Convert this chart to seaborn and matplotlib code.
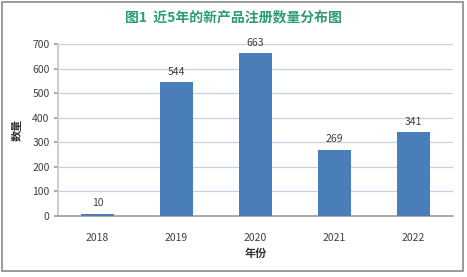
import matplotlib
matplotlib.use("Agg")
import matplotlib.pyplot as plt
import seaborn as sns
import pandas as pd
from matplotlib.patches import Rectangle

years = ["2018", "2019", "2020", "2021", "2022"]
counts = [10, 544, 663, 269, 341]
title = "图1  近5年的新产品注册数量分布图"
xlabel = "年份"
ylabel = "数量"

sns.set_theme(style="white")
plt.rcParams['font.family'] = ['Noto Sans CJK SC', 'DejaVu Sans']

df = pd.DataFrame({"year": years, "count": counts})

fig = plt.figure(figsize=(4.67, 2.77), dpi=100)
ax = fig.add_axes([0.124, 0.220, 0.846, 0.621])
sns.barplot(data=df, x="year", y="count", color="#4a7ebb", saturation=1,
            width=0.42, ax=ax, zorder=3, linewidth=0, edgecolor="none")

ax.set_ylim(0, 700)
ax.set_yticks(range(0, 701, 100))
ax.yaxis.grid(True, color="#c4d0e4", linewidth=0.9, zorder=0)
ax.set_axisbelow(True)
for s in ["top", "right"]:
    ax.spines[s].set_visible(False)
ax.spines["left"].set_color("#c8c8c8")
ax.spines["bottom"].set_color("#a0a0a0")
ax.tick_params(axis="y", which="both", left=True, length=3, color="#a0a0a0",
               labelsize=7.5, labelcolor="#404040", pad=3)
ax.tick_params(axis="x", bottom=False, labelsize=7.5, labelcolor="#404040", pad=6)

ax.set_xlabel(xlabel, fontsize=8, fontweight="bold", color="#303030", labelpad=3)
ax.set_ylabel(ylabel, fontsize=8, fontweight="bold", color="#303030", labelpad=6)

for c in ax.containers:
    ax.bar_label(c, labels=[str(v) for v in counts], padding=4, fontsize=7.5,
                 color="#404040")

fig.text(0.5, 0.938, title, ha="center", va="center", fontsize=10,
         fontweight="bold", color="#2a9d72")

fig.patches.append(Rectangle((0.005, 0.02), 0.987, 0.972, transform=fig.transFigure,
                             fill=False, edgecolor="#8a8a8a", linewidth=1.2))

fig.savefig("out.png", dpi=100)
